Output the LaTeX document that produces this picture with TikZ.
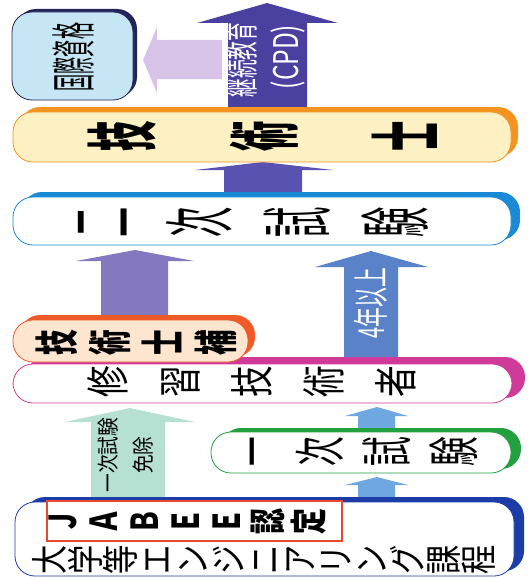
\documentclass[tikz,border=0pt]{standalone}
\usepackage{fontspec}
\newfontfamily\jp{Noto Sans CJK JP}
\usetikzlibrary{positioning}

\definecolor{navy}{HTML}{22245A}
\definecolor{skyfill}{HTML}{C6E6F5}
\definecolor{cpdblue}{HTML}{4A40A0}
\definecolor{lavender}{HTML}{D8C4E8}
\definecolor{gold}{HTML}{F39420}
\definecolor{cream}{HTML}{FDF0C2}
\definecolor{arrowblue}{HTML}{5A52B0}
\definecolor{skyline}{HTML}{1A8AD6}
\definecolor{purplearrow}{HTML}{8478C0}
\definecolor{midblue}{HTML}{5A82C8}
\definecolor{redorange}{HTML}{F05A28}
\definecolor{peach}{HTML}{FDE5CF}
\definecolor{magenta2}{HTML}{D03A98}
\definecolor{mint}{HTML}{B6E0D2}
\definecolor{lightblue}{HTML}{6FA8E0}
\definecolor{green2}{HTML}{22A040}
\definecolor{deepblue}{HTML}{1C3CA8}
\definecolor{jabeered}{HTML}{E84A30}

\begin{document}
\begin{tikzpicture}
	[x=1pt, y=-1pt,
	box/.style = {rounded corners=20pt, line width=0.8pt, fill=white},
	band/.style = {rounded corners=20pt},
	vtext/.style = {rotate=90, inner sep=0pt, align=center, font=\jp}
	]
	\useasboundingbox (0,0) rectangle (532,578);

	% arrows
	\fill[cpdblue] (228,110) -- (228,23) -- (197,23) -- (267,3) -- (338,23) -- (307,23) -- (307,110) -- cycle;
	\fill[lavender] (222,40) -- (157,40) -- (157,27) -- (143,60) -- (157,93) -- (157,79) -- (222,79) -- cycle;
	\fill[arrowblue] (224,200) -- (224,170) -- (195,170) -- (263,162) -- (333,170) -- (302,170) -- (302,200) -- cycle;
	\fill[purplearrow] (101,325) -- (101,261) -- (76,261) -- (135,250) -- (194,261) -- (168,261) -- (168,325) -- cycle;
	\fill[midblue] (344,365) -- (344,267) -- (315,267) -- (371,251) -- (428,267) -- (398,267) -- (398,365) -- cycle;
	\fill[mint] (91,505) -- (91,422) -- (65,422) -- (130,408) -- (195,422) -- (165,422) -- (165,505) -- cycle;
	\fill[lightblue] (358,434) -- (358,416) -- (345,416) -- (377,407) -- (408,416) -- (395,416) -- (395,434) -- cycle;
	\fill[lightblue] (358,504) -- (358,485) -- (345,485) -- (377,477) -- (408,485) -- (395,485) -- (395,504) -- cycle;

	% boxes
	\fill[band, navy] (16,9) rectangle (137,97);
	\draw[box, fill=skyfill, draw=navy] (12,12) rectangle (133,100);

	\fill[band, gold] (20,107) rectangle (518,157);
	\draw[box, fill=cream, draw=gold] (13,112) rectangle (511,162);

	\fill[band, skyline] (22,192) rectangle (520,240);
	\draw[box, draw=skyline] (13,197) rectangle (511,245);

	\fill[band, magenta2] (26,357) rectangle (525,398);
	\draw[box, draw=magenta2] (13,364) rectangle (512,403);

	\fill[band, redorange] (20,315) rectangle (255,357);
	\draw[box, fill=peach, draw=redorange] (13,320) rectangle (248,362);

	\fill[band, green2] (221,428) rectangle (521,469);
	\draw[box, draw=green2] (211,432) rectangle (511,473);

	\fill[band, deepblue] (25,497) rectangle (524,571);
	\draw[box, draw=deepblue] (15,502) rectangle (514,576);
	\draw[jabeered, line width=1.6pt, fill=white] (47,501) rectangle (342,541);

	% texts
	\node[vtext, xscale=0.38, font=\jp\fontsize{45}{50}\selectfont] (intl) at (73,57) {国際資格};
	\node[vtext, xscale=0.55, white, font=\jp\fontsize{34}{38}\selectfont] (cpd1) at (242,60) {継続教育};
	\node[vtext, xscale=0.72, white, font=\jp\fontsize{34}{38}\selectfont] (cpd2) at (288,57) {(CPD)};
	\node[vtext, xscale=0.42, font=\jp\bfseries\fontsize{72}{142}\selectfont] (pe) at (263,136) {技\\術\\士};
	\node[vtext, xscale=0.42, font=\jp\fontsize{72}{98}\selectfont] (second) at (253,222) {二\\次\\試\\験};
	\node[vtext, xscale=0.55, white, font=\jp\fontsize{36}{40}\selectfont] (years) at (371,303) {4年以上};
	\node[vtext, xscale=0.58, font=\jp\bfseries\fontsize{44}{53}\selectfont] (epe) at (136,343) {技\\術\\士\\補};
	\node[vtext, xscale=0.72, font=\jp\fontsize{44}{72}\selectfont] (trainee) at (252,382) {修\\習\\技\\術\\者};
	\node[vtext, xscale=0.85, font=\jp\fontsize{22}{35}\selectfont] (exempt) at (126,455) {一次試験\\免除};
	\node[vtext, xscale=0.57, font=\jp\fontsize{52}{67}\selectfont] (first) at (364,452) {一\\次\\試\\験};
	\node[vtext, xscale=0.7, font=\jp\bfseries\fontsize{37}{41}\selectfont] (jabee) at (188,522) {Ｊ\\Ａ\\Ｂ\\Ｅ\\Ｅ\\認\\定};
	\node[vtext, xscale=0.79, font=\jp\fontsize{37}{35.8}\selectfont] (course) at (264,560) {大\\学\\等\\エ\\ン\\ジ\\ニ\\ア\\リ\\ン\\グ\\課\\程};
\end{tikzpicture}
\end{document}
